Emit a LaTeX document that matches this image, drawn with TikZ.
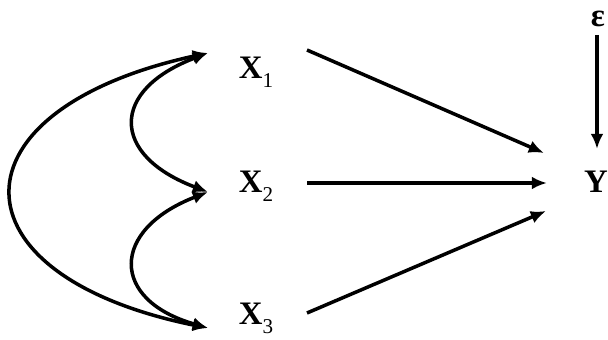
\documentclass[tikz,border=0pt]{standalone}
\usepackage{fontspec}
\setmainfont{Liberation Serif}
\usetikzlibrary{arrows.meta}

\newcommand{\varlab}[1]{\textbf{X}\raisebox{-0.28em}{\fontsize{18}{18}\selectfont #1}}

\begin{document}
\begin{tikzpicture}
[x=0.03cm,y=-0.03cm]
\tikzset{lab/.style={inner sep=0pt,font=\fontsize{28}{32}\selectfont}}
\tikzset{arr/.style={line width=3pt,-{Latex[length=13pt,width=11pt]}}}
\tikzset{darr/.style={line width=3pt,{Latex[length=13pt,width=11pt]}-{Latex[length=13pt,width=11pt]}}}
\useasboundingbox (0,0) rectangle (608,340);

\node [lab] (x1) at (256,72) {\varlab{1}};
\node [lab] (x2) at (256,186) {\varlab{2}};
\node [lab] (x3) at (256,318) {\varlab{3}};
\node [lab,anchor=east] (y) at (608,182) {\textbf{Y}};
\node [lab] (e) at (598,19) {\textbf{ε}};

% ends of the connectors
\coordinate (a1) at (208,53);
\coordinate (a2) at (208,192);
\coordinate (a3) at (208,328);
\coordinate (s1) at (307,50);
\coordinate (s2) at (307,183);
\coordinate (s3) at (307,313);
\coordinate (t1) at (544,153);
\coordinate (t2) at (547,183);
\coordinate (t3) at (546,211);
\coordinate (s4) at (597,35);
\coordinate (t4) at (597,149);

\draw [darr] (a1) .. controls (-53,110) and (-53,275) .. (a3);
\draw [darr] (a1) .. controls (110,90) and (110,155) .. (a2);
\draw [darr] (a2) .. controls (110,230) and (110,300) .. (a3);

\foreach \from/\to in {s1/t1,s2/t2,s3/t3,s4/t4}
	\draw [arr] (\from) -- (\to);

\end{tikzpicture}
\end{document}
